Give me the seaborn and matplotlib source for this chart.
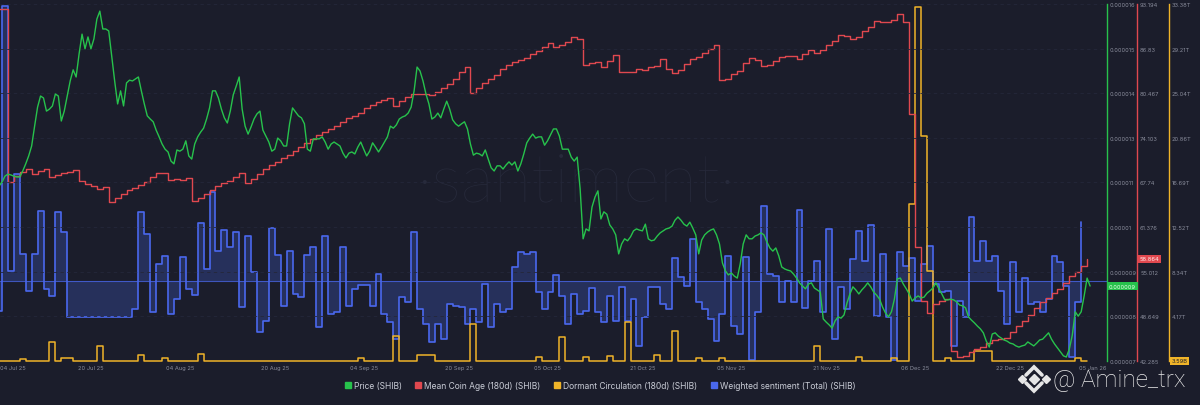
import numpy as np
import pandas as pd
import matplotlib
matplotlib.use("Agg")
import matplotlib.pyplot as plt
from matplotlib.lines import Line2D
import seaborn as sns

# SHIB price, every 12h from 04 Jul 25, in micro-USD (x 1e-6)
price_micro = [
    11.41, 11.41, 11.51, 11.66, 11.71, 11.69, 11.66, 11.64, 11.64, 11.79,
    11.97, 12.17, 12.42, 12.92, 13.40, 13.68, 13.63, 13.30, 13.35, 13.43,
    13.73, 13.68, 13.05, 13.30, 13.68, 14.06, 14.34, 14.16, 14.74, 15.24,
    14.87, 15.17, 14.87, 15.12, 15.62, 15.82, 15.37, 15.37, 15.32, 14.69,
    14.06, 13.48, 13.81, 13.43, 14.01, 14.08, 14.06, 14.11, 14.16, 13.81,
    13.48, 13.18, 13.10, 13.03, 12.82, 12.65, 12.47, 12.34, 12.27, 12.04,
    11.97, 12.32, 12.29, 12.34, 12.55, 12.17, 12.09, 12.47, 12.65, 12.77,
    12.87, 13.10, 13.38, 13.81, 13.81, 13.63, 13.35, 13.13, 13.00, 13.30,
    13.71, 13.93, 14.16, 13.35, 12.92, 12.72, 12.90, 13.10, 13.23, 13.30,
    12.82, 12.67, 12.52, 12.29, 12.34, 12.62, 12.55, 12.42, 12.42, 12.98,
    13.38, 13.28, 13.18, 13.13, 12.98, 12.34, 12.29, 12.60, 12.60, 12.60,
    12.65, 12.52, 12.34, 12.47, 12.52, 12.47, 12.42, 12.24, 12.12, 12.24,
    12.27, 12.22, 12.39, 12.52, 12.34, 12.17, 12.29, 12.50, 12.39, 12.27,
    12.39, 12.52, 12.65, 12.92, 12.87, 12.95, 13.10, 13.15, 13.18, 13.25,
    13.40, 13.81, 14.41, 14.31, 14.06, 13.73, 13.48, 13.10, 13.15, 13.25,
    13.13, 13.35, 13.55, 13.35, 13.08, 12.98, 12.92, 12.98, 13.03, 12.85,
    12.47, 12.19, 12.24, 12.22, 12.17, 12.32, 12.09, 11.87, 11.79, 11.92,
    11.92, 11.84, 11.94, 12.02, 11.94, 12.02, 11.79, 11.97, 12.22, 12.50,
    12.62, 12.72, 12.62, 12.65, 12.65, 12.44, 12.55, 12.70, 12.85, 12.85,
    12.67, 12.34, 12.34, 12.34, 12.14, 12.04, 12.14, 11.34, 10.08, 10.33,
    10.28, 10.88, 11.13, 11.29, 10.58, 10.76, 10.70, 10.43, 10.33, 10.18,
    9.70, 9.95, 10.08, 10.03, 10.13, 10.28, 10.33, 10.30, 10.28, 10.45,
    10.08, 10.03, 10.05, 10.15, 10.23, 10.28, 10.33, 10.35, 10.40, 10.55,
    10.63, 10.55, 10.45, 10.40, 10.50, 10.35, 10.18, 9.70, 10.05, 10.18,
    10.25, 10.30, 10.33, 10.18, 9.95, 9.47, 9.27, 9.17, 9.22, 9.14,
    9.09, 9.45, 9.95, 10.18, 10.08, 10.08, 10.15, 10.18, 10.23, 10.18,
    10.00, 9.85, 9.77, 9.85, 9.65, 9.37, 9.32, 9.29, 9.27, 9.19,
    9.09, 8.97, 8.89, 8.82, 8.94, 8.97, 8.84, 8.79, 8.74, 8.06,
    7.98, 7.91, 7.83, 8.01, 8.11, 8.08, 8.16, 8.46, 8.69, 8.87,
    8.79, 8.69, 8.79, 8.87, 8.97, 8.87, 8.74, 8.66, 8.56, 8.36,
    8.21, 8.11, 8.24, 8.56, 9.07, 9.09, 8.94, 8.82, 8.69, 8.51,
    8.59, 8.64, 8.59, 8.61, 8.71, 8.77, 8.84, 8.97, 8.82, 8.69,
    8.54, 8.54, 8.56, 8.54, 8.49, 8.41, 8.39, 8.34, 8.11, 8.03,
    7.96, 7.88, 7.81, 7.71, 7.50, 7.35, 7.68, 7.71, 7.63, 7.58,
    7.53, 7.50, 7.45, 7.43, 7.38, 7.35, 7.38, 7.40, 7.48, 7.43,
    7.38, 7.45, 7.53, 7.55, 7.63, 7.71, 7.55, 7.43, 7.33, 7.23,
    7.13, 7.10, 7.30, 7.65, 8.24, 8.13, 8.24, 8.64, 9.09, 8.89,
]

# daily series from 04 Jul 25
mean_coin_age = [
    92.48, 92.48, 67.81, 68.66, 69.24, 69.66, 68.95, 69.38, 69.66, 68.52,
    68.81, 69.09, 69.24, 69.52, 67.95, 67.52, 67.24, 66.81, 67.10, 64.96,
    65.53, 66.10, 66.67, 66.95, 67.38, 67.81, 68.52, 69.09, 69.09, 68.10,
    68.24, 68.10, 68.38, 65.10, 65.53, 66.10, 66.67, 67.24, 67.67, 67.95,
    68.52, 69.09, 67.67, 68.24, 68.95, 69.66, 70.23, 70.66, 71.23, 71.66,
    72.23, 72.80, 73.37, 73.94, 74.51, 74.94, 75.37, 75.80, 76.37, 76.94,
    77.22, 77.65, 78.36, 78.79, 79.22, 79.50, 79.79, 78.65, 79.36, 79.93,
    80.36, 80.36, 80.36, 80.22, 80.64, 81.21, 81.78, 82.50, 83.50, 84.21,
    80.50, 81.21, 81.93, 82.50, 83.07, 83.92, 84.49, 84.92, 85.21, 85.49,
    86.06, 86.49, 87.06, 87.63, 87.06, 87.35, 87.77, 88.49, 88.20, 84.49,
    84.78, 84.92, 84.21, 85.06, 85.92, 83.50, 83.50, 83.50, 83.92, 83.78,
    84.21, 84.35, 85.35, 83.92, 83.35, 83.78, 84.64, 85.35, 85.64, 86.21,
    86.78, 87.35, 82.36, 82.50, 83.21, 83.64, 84.78, 85.49, 85.21, 84.35,
    84.49, 85.06, 85.64, 85.78, 85.78, 85.35, 86.06, 86.63, 86.21, 86.63,
    87.35, 87.92, 88.77, 88.63, 88.20, 88.49, 89.34, 89.91, 90.77, 90.63,
    90.63, 90.91, 91.77, 90.63, 77.51, 58.54, 50.84, 49.13, 50.41, 50.84,
    51.13, 43.71, 42.85, 42.99, 43.57, 43.99, 44.28, 44.85, 45.28, 45.42,
    45.56, 46.42, 47.28, 47.99, 48.85, 49.84, 50.70, 51.27, 51.98, 52.55,
    53.41, 54.41, 54.98, 55.83, 56.83,
]

# dormant circulation (180d), trillions of SHIB
dormant_t = [
    0.04, 0.04, 0.04, 0.04, 0.19, 0.04, 0.04, 0.04, 0.04, 1.78,
    0.04, 0.28, 0.28, 0.04, 0.04, 0.04, 0.04, 1.40, 0.04, 0.04,
    0.04, 0.04, 0.04, 0.04, 0.56, 0.04, 0.04, 0.04, 0.28, 0.04,
    0.04, 0.04, 0.04, 0.04, 0.65, 0.04, 0.04, 0.04, 0.04, 0.04,
    0.04, 0.04, 0.04, 0.04, 0.04, 0.04, 0.04, 0.04, 0.04, 0.04,
    0.04, 0.04, 0.04, 0.04, 0.04, 0.04, 0.04, 0.04, 0.04, 0.04,
    0.04, 0.28, 0.04, 0.04, 0.04, 0.04, 0.04, 2.34, 0.04, 0.04,
    0.04, 0.56, 0.56, 0.56, 0.04, 0.04, 0.04, 0.04, 0.04, 0.04,
    3.46, 0.04, 0.04, 0.04, 0.04, 0.04, 0.04, 0.04, 0.04, 0.04,
    0.04, 0.37, 0.04, 0.04, 0.04, 2.24, 0.04, 0.04, 0.04, 0.37,
    0.04, 0.04, 0.04, 0.47, 0.04, 0.04, 3.65, 0.04, 0.04, 0.04,
    0.04, 0.56, 0.04, 0.04, 2.81, 0.04, 0.04, 0.04, 0.28, 0.04,
    0.04, 0.04, 0.28, 0.04, 0.04, 0.04, 0.04, 0.04, 0.04, 0.04,
    0.04, 0.04, 0.04, 0.04, 0.04, 0.04, 0.04, 0.04, 1.40, 0.04,
    0.04, 0.04, 0.04, 0.04, 0.04, 0.37, 0.04, 0.04, 0.04, 0.04,
    0.04, 0.28, 0.04, 0.04, 14.68, 33.10, 21.04, 8.42, 0.04, 0.04,
    0.28, 0.04, 0.04, 0.04, 0.04, 0.94, 0.94, 0.94, 0.04, 0.04,
    0.04, 0.04, 0.04, 0.04, 0.04, 0.04, 0.04, 0.04, 0.04, 0.04,
    0.04, 0.04, 0.28, 0.04, 0.0036,
]

# weighted sentiment (total), gap = no data
sentiment = [
    -0.75, 6.88, 0.25, 2.68, 0.68, -0.25, 0.68, 1.75, -0.20, -0.38,
    1.73, 1.23, -0.90, np.nan, np.nan, np.nan, np.nan, np.nan, np.nan, np.nan,
    np.nan, np.nan, np.nan, -0.70, 1.73, 1.18, -0.78, 0.43, 0.63, -0.83,
    -0.45, 0.60, -0.20, -0.35, 1.45, 0.30, 2.23, 0.75, 1.28, 0.85,
    1.23, -0.65, 1.13, 0.23, -1.28, -1.00, 1.33, 0.65, -0.63, 0.75,
    -0.33, -0.40, 0.65, 0.85, -1.15, 1.13, -0.83, -0.78, 0.85, -0.63,
    -0.20, -0.10, -0.10, -0.63, 0.18, -0.83, -1.03, -1.45, -0.40, -0.53,
    1.23, -0.70, -1.08, -1.53, -1.08, -1.45, -0.58, -0.63, -0.65, -1.08,
    -0.70, -1.03, -0.08, -1.15, -0.58, -0.78, -0.70, 0.35, 0.73, 0.68,
    0.73, -0.28, -0.70, -0.28, 0.15, -0.38, -1.08, -0.33, -0.83, -0.75,
    -0.18, -0.78, -1.03, -0.38, -1.00, -0.15, -1.00, -0.45, -1.63, -0.90,
    -0.15, -0.15, -0.58, -0.70, 0.58, 0.10, -0.13, 1.05, -0.53, -0.70,
    -0.95, -1.50, -0.83, 0.63, -1.13, -1.33, 0.60, -1.98, -0.78, 1.88,
    0.18, 0.13, -0.53, 0.00, -0.53, 1.78, -0.68, 0.00, 0.50, -0.78,
    1.30, -1.45, -0.15, -0.70, 0.55, 1.25, 0.50, 1.40, -0.88, 0.68,
    -0.90, -1.98, 0.73, 0.38, 0.58, -0.50, 0.43, 0.88, -0.08, -0.28,
    -0.25, -1.63, -0.50, -0.90, 1.60, 0.50, 1.00, 0.50, 0.63, -0.25,
    -1.08, 0.48, -0.78, 0.08, -0.58, -0.53, -0.78, -0.45, 0.63, 0.48,
    -0.13, -1.90, -0.53, 1.48,
]

price_ticks = ["0.000007", "0.000008", "0.000009", "0.00001", "0.000011",
               "0.000013", "0.000014", "0.000015", "0.000016"]
age_ticks = ["42.285", "48.649", "55.012", "61.376", "67.74",
             "74.103", "80.467", "86.83", "93.194"]
dormant_ticks = ["", "4.17T", "8.34T", "12.52T", "16.69T",
                 "20.86T", "25.04T", "29.21T", "33.38T"]
date_ticks = ["2025-07-20", "2025-08-04", "2025-08-20", "2025-09-04", "2025-09-20",
              "2025-10-05", "2025-10-21", "2025-11-05", "2025-11-21", "2025-12-06",
              "2025-12-22", "2026-01-05"]

BG = "#1b1d2b"
GREEN = "#27c24c"
RED = "#e0484f"
ORANGE = "#f0b429"
BLUE = "#4a68ee"
TICK = "#8a8d9c"
PX = 72 / 100  # points per pixel at dpi 100
TFS = 4.1      # tick label size

sns.set_style("dark")
plt.rcParams["font.family"] = ["Inter", "DejaVu Sans"]

price_dates = pd.date_range("2025-07-04", periods=len(price_micro), freq="12h")
day_dates = pd.date_range("2025-07-04", periods=len(mean_coin_age), freq="D")
price = pd.Series(np.array(price_micro) * 1e-6, index=price_dates)
age = pd.Series(mean_coin_age, index=day_dates)
dormant = pd.Series(dormant_t, index=day_dates)
sent = pd.Series(sentiment, index=day_dates[:len(sentiment)]).dropna()

fig = plt.figure(figsize=(12, 4.06), dpi=100, facecolor=BG)
ax = fig.add_axes([0.0, 0.1084, 0.9225, 0.8793])
ax.set_facecolor(BG)
ax.grid(False)

# watermark
ax.text(0.52, 0.50, "\u00b7santiment\u00b7", transform=ax.transAxes, ha="center",
        va="center", fontsize=50, color="#272a3b", family=["Lato", "DejaVu Sans"],
        weight="light", zorder=0)

# weighted sentiment (own hidden scale)
ax.fill_between(sent.index, sent.values, 0, step="post", color="#3b54b5",
                alpha=0.35, lw=0)
sns.lineplot(x=sent.index, y=sent.values, ax=ax, color=BLUE, lw=1.2,
             drawstyle="steps-post")
ax.axhline(0, color=BLUE, lw=0.8, alpha=0.75)
ax.set_ylim(-2.0, 6.925)
ax.set_yticks([])

ax_org = ax.twinx()
ax_red = ax.twinx()
ax_price = ax.twinx()

sns.lineplot(x=dormant.index, y=dormant.values, ax=ax_org, color=ORANGE, lw=1.1,
             drawstyle="steps-post", clip_on=False)
sns.lineplot(x=age.index, y=age.values, ax=ax_red, color=RED, lw=1.0,
             drawstyle="steps-post")
sns.lineplot(x=price.index, y=price.values, ax=ax_price, color=GREEN, lw=1.0)

ax_price.set_ylim(7.0e-6, 16.0e-6)
ax_price.set_yticks(np.linspace(7.0e-6, 16.0e-6, 9), price_ticks)
ax_red.set_ylim(42.285, 93.194)
ax_red.set_yticks(np.linspace(42.285, 93.194, 9), age_ticks)
ax_org.set_ylim(0, 33.38)
ax_org.set_yticks(np.linspace(0, 33.38, 9), dormant_ticks)

ax_red.spines["right"].set_position(("outward", 30 * PX))
ax_org.spines["right"].set_position(("outward", 62 * PX))
for a, col in [(ax, None), (ax_org, ORANGE), (ax_red, RED), (ax_price, GREEN)]:
    for side in ["left", "top", "bottom", "right"]:
        a.spines[side].set_visible(False)
    if col:
        a.spines["right"].set_visible(True)
        a.spines["right"].set_color(col)
        a.spines["right"].set_linewidth(1.0)
        a.tick_params(axis="y", length=0, pad=2.2, labelsize=TFS, labelcolor=TICK)
    a.set_xlabel("")
    a.set_ylabel("")

ax_red.grid(False)
ax_org.grid(False)
ax_price.grid(axis="y", color="#24273a", lw=0.6, ls=(0, (4, 4)))
ax_price.grid(axis="x", visible=False)

# x axis
left = pd.Timestamp("2025-07-04 15:55")
right = pd.Timestamp("2026-01-07 08:30")
ax.set_xlim(left, right)
tick_pos = [left] + [pd.Timestamp(d) for d in date_ticks]
tick_lab = ["04 Jul 25"] + [pd.Timestamp(d).strftime("%d %b %y") for d in date_ticks]
ax.set_xticks(tick_pos, tick_lab)
ax.tick_params(axis="x", length=0, pad=3.0, labelsize=TFS, labelcolor=TICK)
ax.get_xticklabels()[0].set_horizontalalignment("left")

# current value boxes
ax_price.text(1.0018, price.iloc[-1], f"{price.iloc[-1]:.6f}",
              transform=ax_price.get_yaxis_transform(), ha="left", va="center",
              fontsize=TFS, color="#e8ffe9",
              bbox=dict(boxstyle="square,pad=0.3", fc=GREEN, ec="none"))
ax_red.text(1.0292, age.iloc[-1], "58.864", transform=ax_red.get_yaxis_transform(),
            ha="left", va="center", fontsize=TFS, color="#fff0f0",
            bbox=dict(boxstyle="square,pad=0.3", fc=RED, ec="none"))
ax_org.text(1.0582, dormant.iloc[-1], "3.59B", transform=ax_org.get_yaxis_transform(),
            ha="left", va="center", fontsize=TFS, color=BG,
            bbox=dict(boxstyle="square,pad=0.3", fc=ORANGE, ec="none"))

# legend
names = ["Price (SHIB)", "Mean Coin Age (180d) (SHIB)",
         "Dormant Circulation (180d) (SHIB)", "Weighted sentiment (Total) (SHIB)"]
handles = [Line2D([], [], marker="s", ls="none", ms=4.6, mfc=c, mec=c)
           for c in [GREEN, RED, ORANGE, BLUE]]
fig.legend(handles, names, loc="center", bbox_to_anchor=(0.5, 0.047), ncol=4,
           frameon=False, fontsize=6.1, handlelength=0.7, handletextpad=0.35,
           columnspacing=1.6, labelcolor="#c9ccd6")

# author tag with a small Binance-like logo (pixel offsets from the logo centre)
cx, cy = 1034 / 1200, 380 / 406
def fx(px):
    return cx + px / 1200
def fy(py):
    return 1 - cy + py / 406
logo = "#e6e6e6"
for dx, ms in [(0, 5.0), (-12, 3.8), (12, 3.8)]:
    fig.add_artist(Line2D([fx(dx)], [fy(0)], marker="D", ms=ms, ls="none",
                          mfc=logo, mec=logo, transform=fig.transFigure))
for sgn in (1, -1):
    fig.add_artist(Line2D([fx(-8), fx(0), fx(8)], [fy(4 * sgn), fy(12 * sgn), fy(4 * sgn)],
                          color=logo, lw=2.6, solid_joinstyle="miter",
                          transform=fig.transFigure))
fig.text(1053 / 1200, 1 - 387 / 406, "@ Amine_trx", fontsize=17.5, color="#ececec",
         family=["Roboto", "DejaVu Sans"], weight="light", ha="left", va="baseline")

fig.savefig("out.png", dpi=100, facecolor=BG)
